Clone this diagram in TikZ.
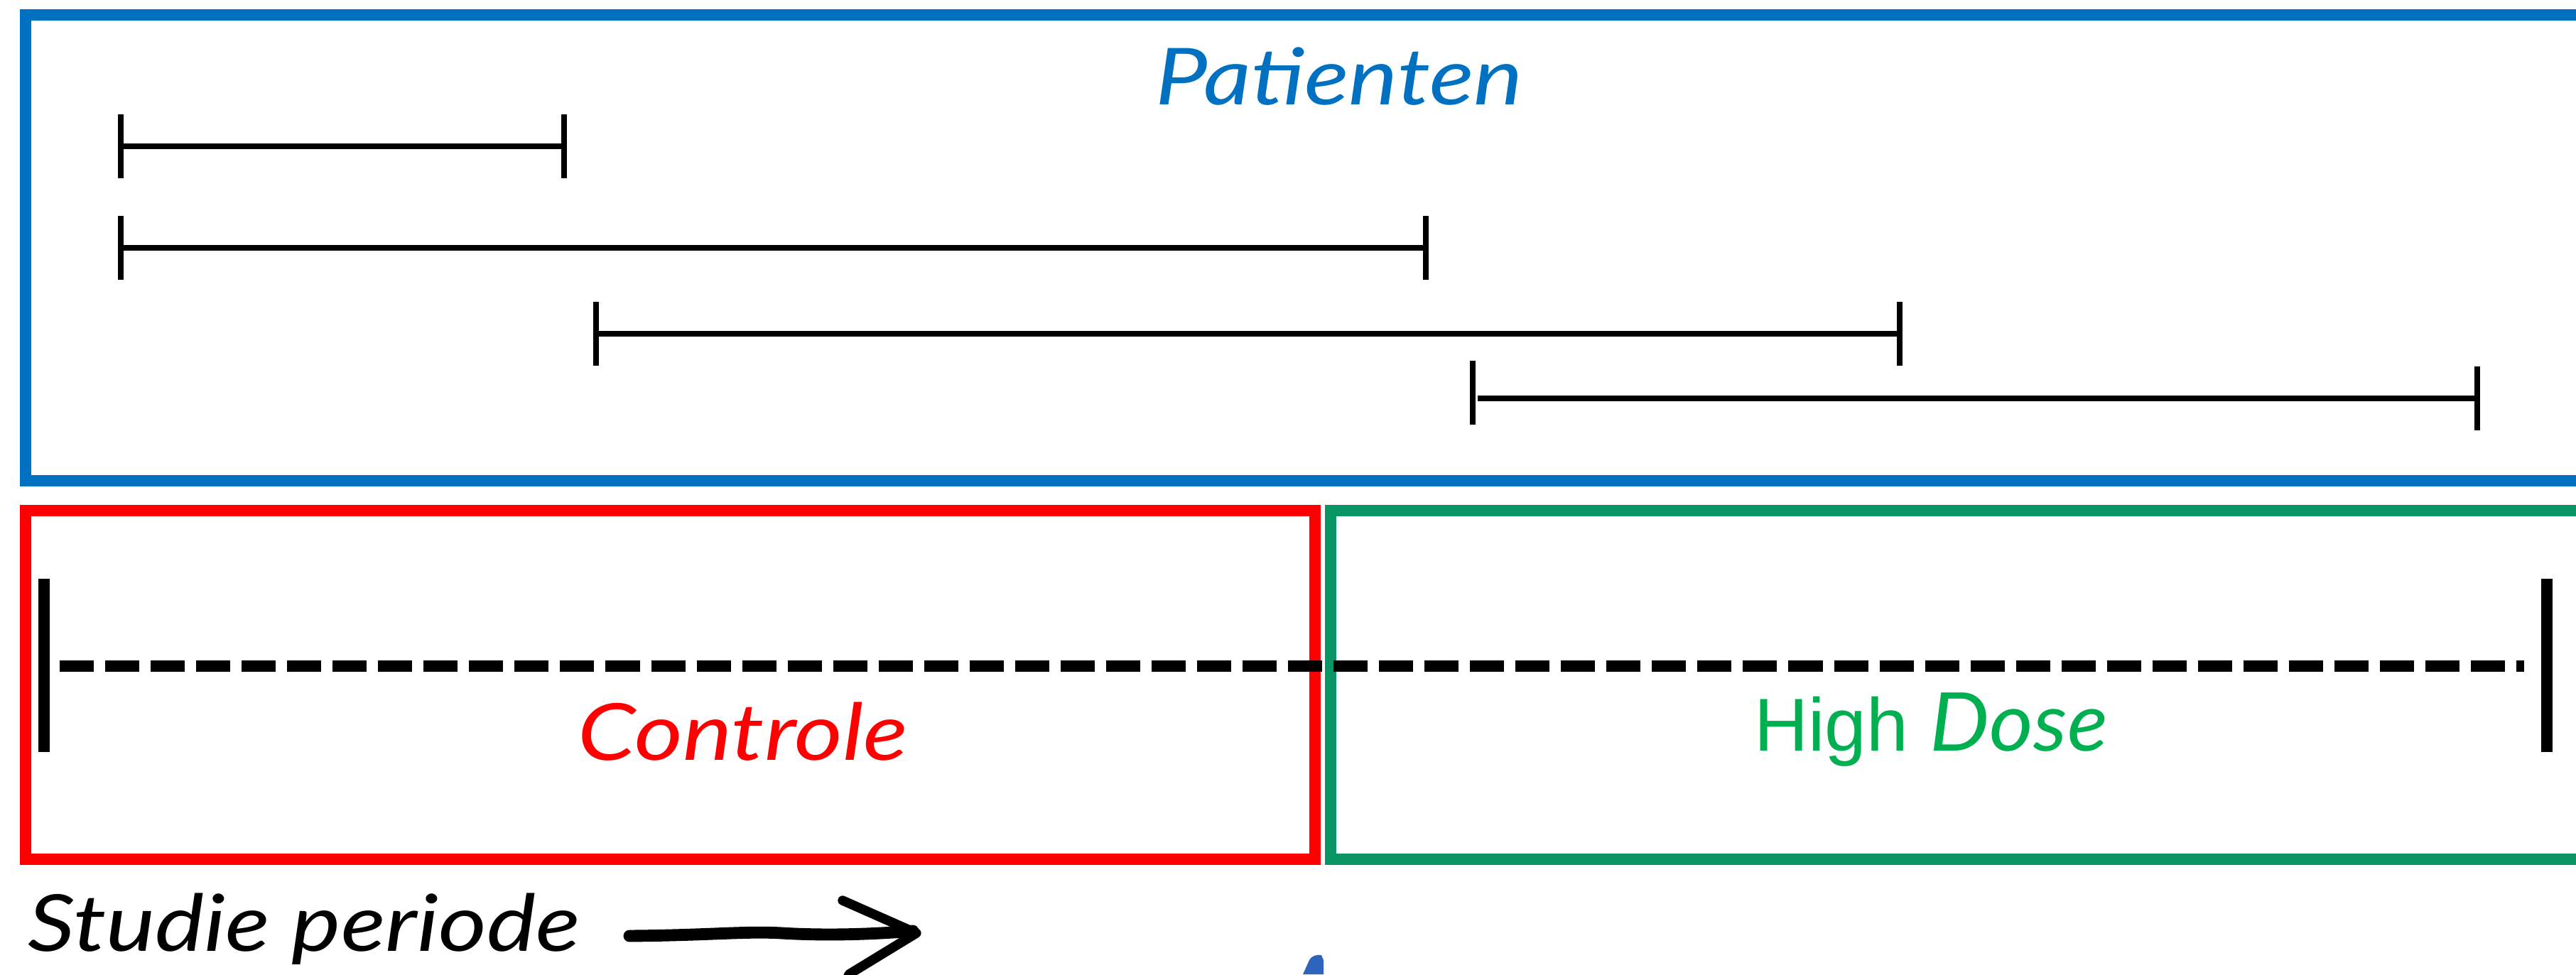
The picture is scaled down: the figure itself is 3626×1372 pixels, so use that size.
\documentclass[tikz,border=0pt]{standalone}
\usepackage{fontspec}
\setmainfont{Lato}
\newfontfamily\handfont{Lato}[FakeStretch=1.18]
\newfontfamily\doseface{Lato}[FakeStretch=1.04]
\newfontfamily\arialfont{Liberation Sans}
\usetikzlibrary{arrows.meta,calc}
\definecolor{boxblue}{RGB}{0,112,192}
\definecolor{boxred}{RGB}{255,0,0}
\definecolor{boxgreen}{RGB}{9,150,100}
\definecolor{txtgreen}{RGB}{0,176,80}
\definecolor{blobblue}{RGB}{47,100,188}
\tikzset{
  frame/.style={line width=4.55pt},
  ival/.style={line width=2.3pt,{Bar[width=25.6pt]}-{Bar[width=25.6pt]}},
  ivalline/.style={line width=2.3pt},
  dashline/.style={line width=4.55pt,dash pattern=on 13.66pt off 4.55pt},
  bigtick/.style={line width=4.55pt},
  hand/.style={font=\handfont\itshape\fontsize{31.5}{36}\selectfont,inner sep=0pt,anchor=base},
  handline/.style={line width=4.8pt,line cap=round,line join=round}
}
\begin{document}
\begin{tikzpicture}[x=0.01cm,y=-0.01cm]
\useasboundingbox (0,0) rectangle (3626,1372);
\clip (0,0) rectangle (3626,1372);
% frames
\draw[frame,boxblue] (36,21) rectangle (3660,677);
\draw[frame,boxred] (36,719) rectangle (1851,1210);
\draw[frame,boxgreen] (1873,719) rectangle (3660,1210);
% patient intervals
\coordinate (i1s) at (166,206); \coordinate (i1e) at (798,206);
\coordinate (i2s) at (166,349); \coordinate (i2e) at (2011,349);
\coordinate (i3s) at (835,470); \coordinate (i3e) at (2678,470);
\coordinate (i4s) at (2080,561); \coordinate (i4e) at (3491,561);
\coordinate (i4t1) at (2073,508); \coordinate (i4t2) at (2073,598);
\draw[ival] (i1s) -- (i1e);
\draw[ival] (i2s) -- (i2e);
\draw[ival] (i3s) -- (i3e);
\draw[ivalline,-{Bar[width=25.6pt]}] (i4s) -- (i4e);
\draw[ivalline] (i4t1) -- (i4t2);
% study period line
\coordinate (d0) at (84,938); \coordinate (d1) at (3553,938);
\coordinate (tl1) at (62,815); \coordinate (tl2) at (62,1059);
\coordinate (tr1) at (3585,815); \coordinate (tr2) at (3585,1059);
\draw[dashline] (d0) -- (d1);
\draw[bigtick] (tl1) -- (tl2);
\draw[bigtick] (tr1) -- (tr2);
% texts
\node[hand,text=boxblue] (pat) at (1885,147) {Patienten};
\node[hand,text=boxred] (ctrl) at (1046,1070) {Controle};
\node[hand,text=txtgreen] (hd) at (2718,1057) {{\arialfont\upshape\fontsize{30}{36}\selectfont High} {\doseface\itshape\fontsize{32.5}{36}\selectfont Dose}};
\node[hand,text=black] (sp) at (428,1339) {Studie periode};
% hand drawn arrow
\coordinate (a0) at (886,1318);
\coordinate (a1) at (1285,1311);
\coordinate (h0) at (1186,1268);
\coordinate (h1) at (1290,1314);
\coordinate (h2) at (1195,1372);
\coordinate (h3) at (1186,1395);
\draw[handline] (a0) .. controls (1000,1317) and (1050,1311) .. (1100,1314) .. controls (1150,1317) and (1210,1317) .. (a1);
\draw[handline,line width=3.8pt] (h0) -- (h1) -- (h2) -- (h3);
% blue blob
\fill[blobblue] (1834,1372) -- (1843,1352) .. controls (1847,1345) and (1855,1344) .. (1860,1345) -- (1863,1352) -- (1863,1372) -- cycle;
\end{tikzpicture}
\end{document}
